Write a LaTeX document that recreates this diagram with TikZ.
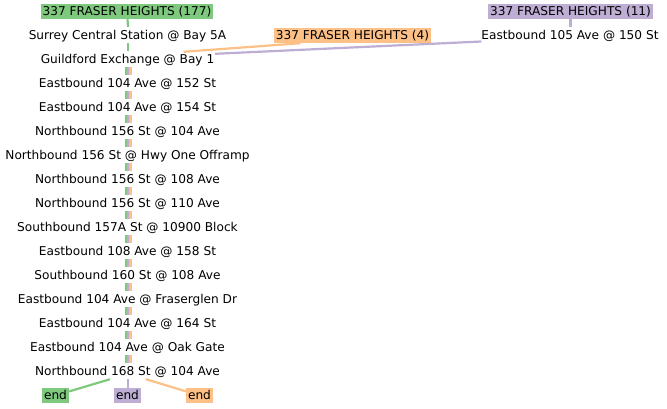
\documentclass[tikz,border=0pt]{standalone}
\usepackage{fontspec}
\setmainfont{DejaVu Sans}
\definecolor{cg}{HTML}{7FC97F}
\definecolor{cp}{HTML}{BEAED4}
\definecolor{co}{HTML}{FDC086}
\begin{document}
\begin{tikzpicture}[x=1bp,y=-1bp,
  every node/.style={font=\fontsize{12.15bp}{14bp}\selectfont},
  stopnode/.style={inner sep=0pt, minimum height=16bp, text height=10bp, text depth=2bp},
  routebox/.style={inner xsep=2bp, inner ysep=0pt, minimum height=15bp, text height=10bp, text depth=2bp},
  ln/.style={line width=2.2bp}]
\useasboundingbox (0,0) rectangle (667,408);
% route header boxes
\node[routebox, fill=cg] (gb) at (127,11.5) {337 FRASER HEIGHTS (177)};
\node[routebox, fill=co] (ob) at (352.5,35.5) {337 FRASER HEIGHTS (4)};
\node[routebox, fill=cp] (pb) at (570.5,11.5) {337 FRASER HEIGHTS (11)};
% stops
\node[stopnode] (e105) at (570,35) {Eastbound 105 Ave @ 150 St};
\node[stopnode] (s1) at (127.5,35) {Surrey Central Station @ Bay 5A};
\node[stopnode] (s2) at (127.5,59) {Guildford Exchange @ Bay 1};
\node[stopnode] (s3) at (127.5,83) {Eastbound 104 Ave @ 152 St};
\node[stopnode] (s4) at (127.5,107) {Eastbound 104 Ave @ 154 St};
\node[stopnode] (s5) at (127.5,131) {Northbound 156 St @ 104 Ave};
\node[stopnode] (s6) at (127.5,155) {Northbound 156 St @ Hwy One Offramp};
\node[stopnode] (s7) at (127.5,179) {Northbound 156 St @ 108 Ave};
\node[stopnode] (s8) at (127.5,203) {Northbound 156 St @ 110 Ave};
\node[stopnode] (s9) at (127.5,227) {Southbound 157A St @ 10900 Block};
\node[stopnode] (s10) at (127.5,251) {Eastbound 108 Ave @ 158 St};
\node[stopnode] (s11) at (127.5,275) {Southbound 160 St @ 108 Ave};
\node[stopnode] (s12) at (127.5,299) {Eastbound 104 Ave @ Fraserglen Dr};
\node[stopnode] (s13) at (127.5,323) {Eastbound 104 Ave @ 164 St};
\node[stopnode] (s14) at (127.5,347) {Eastbound 104 Ave @ Oak Gate};
\node[stopnode] (s15) at (127.5,371) {Northbound 168 St @ 104 Ave};
% end boxes
\node[routebox, fill=cg] (ge) at (55.5,395.5) {end};
\node[routebox, fill=cp] (pe) at (127.5,395.5) {end};
\node[routebox, fill=co] (oe) at (199.5,395.5) {end};
% connectors
\draw[ln, cg] ([xshift=0.5bp]gb.south) -- ([xshift=0.5bp]s1.north);
\draw[ln, cg] ([xshift=0.5bp]s1.south) -- ([xshift=0.5bp]s2.north);
\draw[ln, cp] (pb.south) -- (pb.south |- e105.north);
\draw[ln, co] ([xshift=56bp,yshift=-1bp]s2.north) -- ([xshift=-52bp]ob.south);
\draw[ln, cp] ([xshift=87.5bp,yshift=-3bp]s2.north) -- ([yshift=-6.5bp]e105.west);
\foreach \i [evaluate=\i as \j using int(\i+1)] in {2,...,14} {
  \draw[ln, cg] ([xshift=-1.5bp]s\i.south) -- ([xshift=-1.5bp]s\j.north);
  \draw[ln, cp] ([xshift=0.8bp]s\i.south) -- ([xshift=0.8bp]s\j.north);
  \draw[ln, co] ([xshift=3bp]s\i.south) -- ([xshift=3bp]s\j.north);
}
\draw[ln, cg] ([xshift=-17.5bp]s15.south) -- (ge);
\draw[ln, cp] ([xshift=0.8bp]s15.south) -- ([xshift=0.8bp]pe.north);
\draw[ln, co] ([xshift=18.5bp]s15.south) -- (oe);
\end{tikzpicture}
\end{document}
